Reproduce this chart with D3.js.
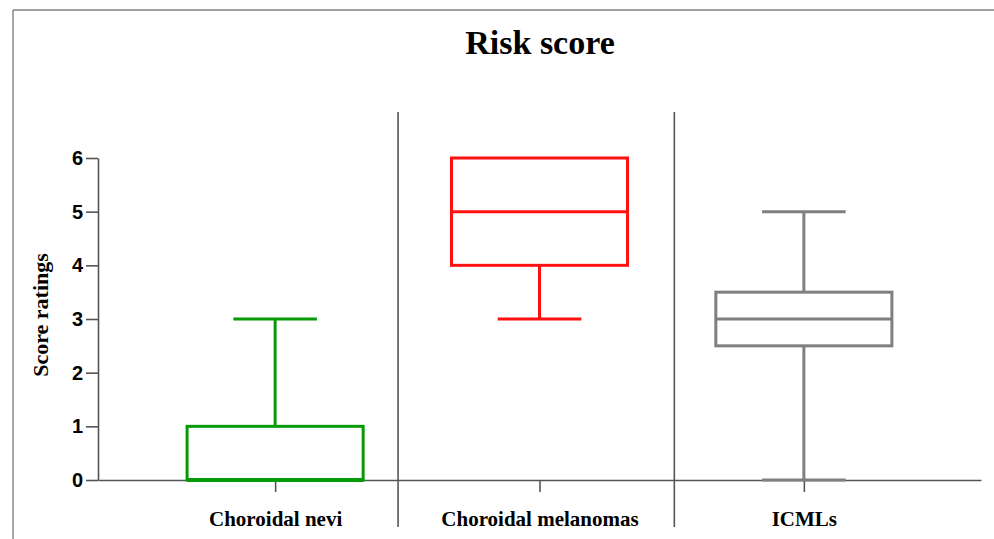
<!DOCTYPE html>
<html>
<head>
<meta charset="utf-8">
<script src="https://cdn.jsdelivr.net/npm/d3@7"></script>
<style>
  html, body { margin: 0; padding: 0; background: #fff; }
  svg { display: block; }
</style>
</head>
<body>
<svg id="chart" width="994" height="539"></svg>
<script>
// Score ratings per group: box-and-whisker summaries
const categories = ["Choroidal nevi", "Choroidal melanomas", "ICMLs"];
const mins    = [0, 3, 0];
const q1s     = [0, 4, 2.5];
const medians = [0, 5, 3];
const q3s     = [1, 6, 3.5];
const maxs    = [3, 6, 5];
const colors  = ["#079a07", "#ff1010", "#7f7f7f"];
const yTicks  = [0, 1, 2, 3, 4, 5, 6];

const svg = d3.select("#chart");
const W = 994, H = 539;

const plot = { left: 98, right: 981, top: 158, bottom: 480 };

const x = d3.scalePoint()
  .domain(categories)
  .range([plot.left, plot.right])
  .padding(0.67);
const step = x.step();

const y = d3.scaleLinear()
  .domain([0, 6])
  .range([plot.bottom, plot.top]);

// outer frame (top and left edges)
svg.append("line")
  .attr("x1", 13).attr("x2", W).attr("y1", 10).attr("y2", 10)
  .attr("stroke", "#a0a0a0").attr("stroke-width", 2);
svg.append("line")
  .attr("x1", 13).attr("x2", 13).attr("y1", 10).attr("y2", H)
  .attr("stroke", "#8a8a8a").attr("stroke-width", 1.5);

// title
svg.append("text")
  .attr("x", 540).attr("y", 54)
  .attr("text-anchor", "middle")
  .attr("font-family", "'Liberation Serif', 'Times New Roman', serif")
  .attr("font-weight", "bold")
  .attr("font-size", 34)
  .attr("fill", "#000")
  .text("Risk score");

// vertical separators between groups
const sepFractions = [0.465, 0.51];
sepFractions.forEach((f, i) => {
  const sx = x(categories[i]) + f * step;
  svg.append("line")
    .attr("x1", sx).attr("x2", sx)
    .attr("y1", 112).attr("y2", 527)
    .attr("stroke", "#555").attr("stroke-width", 1.6);
});

// y axis
const yAxis = svg.append("g")
  .attr("transform", `translate(${plot.left},0)`)
  .call(d3.axisLeft(y).tickValues(yTicks).tickFormat(d3.format("d")).tickSize(12).tickPadding(3).tickSizeOuter(0));
yAxis.select(".domain").attr("stroke", "#555").attr("stroke-width", 1.6);
yAxis.selectAll(".tick line").attr("stroke", "#555").attr("stroke-width", 1.6);
yAxis.selectAll(".tick text")
  .attr("font-family", "'Liberation Sans', Arial, sans-serif")
  .attr("font-weight", "bold")
  .attr("font-size", 20)
  .attr("fill", "#000");

// x axis
const xAxis = svg.append("g")
  .attr("transform", `translate(0,${plot.bottom})`)
  .call(d3.axisBottom(x).tickSize(12).tickPadding(19).tickSizeOuter(0));
xAxis.select(".domain").attr("stroke", "#555").attr("stroke-width", 1.6);
xAxis.selectAll(".tick line").attr("stroke", "#555").attr("stroke-width", 1.6);
xAxis.selectAll(".tick text")
  .attr("font-family", "'Liberation Serif', 'Times New Roman', serif")
  .attr("font-weight", "bold")
  .attr("font-size", 21)
  .attr("fill", "#000");

// y axis title
svg.append("text")
  .attr("transform", "translate(48,315) rotate(-90)")
  .attr("text-anchor", "middle")
  .attr("font-family", "'Liberation Serif', 'Times New Roman', serif")
  .attr("font-weight", "bold")
  .attr("font-size", 22)
  .attr("fill", "#000")
  .text("Score ratings");

// boxes and whiskers
const boxHalf = 0.333 * step;
const capHalf = 0.158 * step;
const groups = svg.append("g").attr("class", "boxes");

categories.forEach((c, i) => {
  const cx = x(c);
  const g = groups.append("g")
    .attr("stroke", colors[i])
    .attr("stroke-width", 3)
    .attr("fill", "none");

  // whiskers
  if (maxs[i] > q3s[i]) {
    g.append("line").attr("x1", cx).attr("x2", cx).attr("y1", y(q3s[i])).attr("y2", y(maxs[i]));
    g.append("line").attr("x1", cx - capHalf).attr("x2", cx + capHalf).attr("y1", y(maxs[i])).attr("y2", y(maxs[i]));
  }
  if (mins[i] < q1s[i]) {
    g.append("line").attr("x1", cx).attr("x2", cx).attr("y1", y(q1s[i])).attr("y2", y(mins[i]));
    g.append("line").attr("x1", cx - capHalf).attr("x2", cx + capHalf).attr("y1", y(mins[i])).attr("y2", y(mins[i]));
  }

  // box
  g.append("rect")
    .attr("x", cx - boxHalf)
    .attr("y", y(q3s[i]))
    .attr("width", 2 * boxHalf)
    .attr("height", y(q1s[i]) - y(q3s[i]))
    .attr("fill", "none");

  // median
  g.append("line")
    .attr("x1", cx - boxHalf).attr("x2", cx + boxHalf)
    .attr("y1", y(medians[i])).attr("y2", y(medians[i]))
    .attr("stroke-width", medians[i] === q1s[i] ? 4 : 3);
});
</script>
</body>
</html>
